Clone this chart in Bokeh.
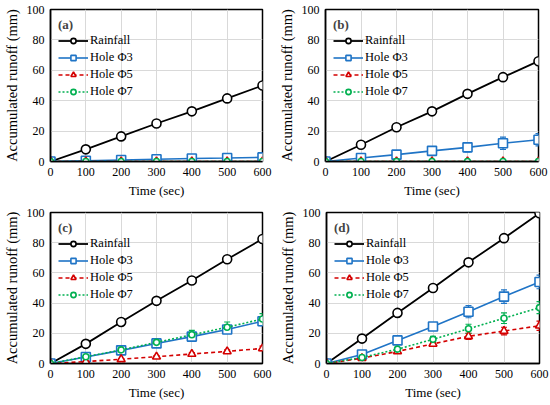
from bokeh.plotting import figure
from bokeh.layouts import column, row
from bokeh.models import ColumnDataSource, Whisker, TeeHead, Range1d, FixedTicker
from bokeh.embed import file_html
from bokeh.resources import INLINE

time = [0, 100, 200, 300, 400, 500, 600]
series_names = ["Rainfall", "Hole Φ3", "Hole Φ5", "Hole Φ7"]
panel_tags = ["(a)", "(b)", "(c)", "(d)"]

rain_a = [0, 8, 16.5, 25, 33, 41.5, 50]
h3_a = [0, 0.5, 1, 1.5, 2, 2.3, 2.7]
h3_a_err = [0, 0.3, 0.5, 0.8, 1, 2.5, 3]
h5_a = [0, 0, 0, 0, 0, 0, 0]
h5_a_err = [0, 0, 0, 0, 0, 0, 0]
h7_a = [0, 0, 0, 0, 0, 0, 0]
h7_a_err = [0, 0, 0, 0, 0, 0, 0]

rain_b = [0, 11, 22.5, 33, 44.5, 55.5, 66]
h3_b = [0, 2.3, 4.5, 7, 9.3, 12, 14.3]
h3_b_err = [0, 0.8, 1, 1.5, 3, 4, 4]
h5_b = [0, 0, 0, 0, 0, 0, 0]
h5_b_err = [0, 0, 0, 0, 0, 0, 0]
h7_b = [0, 0, 0, 0, 0, 0, 0]
h7_b_err = [0, 0, 0, 0, 0, 0, 0]

rain_c = [0, 13, 27.5, 41.5, 55, 69, 82.5]
h3_c = [0, 4.3, 8.7, 13.3, 17.8, 22.5, 28]
h3_c_err = [0, 1, 1, 1.5, 2, 2.5, 3]
h5_c = [0, 1.3, 2.8, 4.5, 6.3, 8, 10]
h5_c_err = [0, 0.5, 0.5, 0.8, 1, 1, 1.5]
h7_c = [0, 4.5, 9, 14, 19, 24, 29.5]
h7_c_err = [0, 1, 1.5, 2, 3, 3.5, 3.5]

rain_d = [0, 16.5, 33.5, 50, 67, 83, 99.5]
h3_d = [0, 6, 15.3, 24.5, 34.3, 44.3, 54]
h3_d_err = [0, 1, 1.5, 2, 4, 4.5, 4.5]
h5_d = [0, 3.5, 8, 13, 18, 21.5, 25]
h5_d_err = [0, 1, 1, 1.5, 2, 2.5, 3]
h7_d = [0, 4, 9.5, 16, 23, 30, 37]
h7_d_err = [0, 1, 1, 2, 3, 3.5, 4]

FONT = "Liberation Serif"
BLACK = "#000000"
BLUE = "#1f74c6"
RED = "#d40000"
GREEN = "#00b050"


def make_panel(tag, rain, h3, h3e, h5, h5e, h7, h7e, w, h, bl, br, bt, bb):
    p = figure(width=w, height=h, output_backend="svg", toolbar_location=None,
               x_range=Range1d(0, 600), y_range=Range1d(0, 100),
               min_border_left=bl, min_border_right=br,
               min_border_top=bt, min_border_bottom=bb)
    p.outline_line_color = "black"
    p.outline_line_width = 1.5
    p.background_fill_color = "white"
    p.border_fill_color = "white"
    for ax in (p.xaxis[0], p.yaxis[0]):
        ax.axis_line_color = "black"
        ax.axis_line_width = 1.5
        ax.major_tick_out = 0
        ax.major_tick_in = 0
        ax.minor_tick_out = 0
        ax.minor_tick_in = 0
        ax.major_label_text_font = FONT
        ax.major_label_text_font_size = "12px"
        ax.major_label_text_color = "black"
        ax.axis_label_text_font = FONT
        ax.axis_label_text_font_style = "normal"
        ax.axis_label_text_color = "black"
        ax.major_label_standoff = 6
        ax.axis_label_standoff = 4
    p.xaxis[0].ticker = FixedTicker(ticks=time)
    p.yaxis[0].ticker = FixedTicker(ticks=[0, 20, 40, 60, 80, 100])
    p.xaxis.axis_label = "Time (sec)"
    p.yaxis.axis_label = "Accumulated runoff (mm)"
    p.xaxis.axis_label_text_font_size = "13px"
    p.yaxis.axis_label_text_font_size = "14.5px"
    p.xgrid.grid_line_color = "#d9d9d9"
    p.ygrid.grid_line_color = "#d9d9d9"
    p.xgrid.ticker = FixedTicker(ticks=time)
    p.ygrid.ticker = FixedTicker(ticks=[0, 20, 40, 60, 80, 100])

    specs = [
        (series_names[0], rain, None, BLACK, "solid", "circle", 9, 1.8),
        (series_names[1], h3, h3e, BLUE, "solid", "square", 9, 1.6),
        (series_names[2], h5, h5e, RED, "4 3", "triangle", 8, 1.6),
        (series_names[3], h7, h7e, GREEN, "2 2", "circle", 6, 1.6),
    ]
    for name, ys, errs, col, dash, mk, sz, lw in specs:
        src = ColumnDataSource(dict(x=time, y=ys))
        if errs is not None and any(e > 0 for e in errs):
            wsrc = ColumnDataSource(dict(
                x=time,
                upper=[a + b for a, b in zip(ys, errs)],
                lower=[a - b for a, b in zip(ys, errs)]))
            wk = Whisker(source=wsrc, base="x", upper="upper", lower="lower",
                         line_color=col, line_width=1.2,
                         upper_head=TeeHead(size=6, line_color=col, line_width=1.2),
                         lower_head=TeeHead(size=6, line_color=col, line_width=1.2))
            p.add_layout(wk)
        p.line("x", "y", source=src, line_color=col, line_width=lw,
               line_dash=dash, legend_label=name)
        p.scatter("x", "y", source=src, marker=mk, size=sz, line_color=col,
                  line_width=1.6, fill_color="white", legend_label=name)

    lg = p.legend[0]
    lg.location = "top_left"
    lg.title = tag
    lg.title_text_font = FONT
    lg.title_text_font_style = "bold"
    lg.title_text_font_size = "13px"
    lg.title_standoff = 0
    lg.label_text_font = FONT
    lg.label_text_font_size = "12.5px"
    lg.label_text_color = "black"
    lg.glyph_width = 30
    lg.glyph_height = 13
    lg.label_height = 13
    lg.label_standoff = 2
    lg.spacing = 2
    lg.margin = 4
    lg.padding = 4
    lg.border_line_alpha = 0
    lg.background_fill_alpha = 0
    return p


pa = make_panel(panel_tags[0], rain_a, h3_a, h3_a_err, h5_a, h5_a_err, h7_a, h7_a_err,
                275, 202, 48, 13, 9, 41)
pb = make_panel(panel_tags[1], rain_b, h3_b, h3_b_err, h5_b, h5_b_err, h7_b, h7_b_err,
                275, 202, 50, 12, 9, 41)
pc = make_panel(panel_tags[2], rain_c, h3_c, h3_c_err, h5_c, h5_c_err, h7_c, h7_c_err,
                275, 203, 48, 13, 10, 42)
pd = make_panel(panel_tags[3], rain_d, h3_d, h3_d_err, h5_d, h5_d_err, h7_d, h7_d_err,
                275, 203, 51, 11, 10, 42)

layout = column(row(pa, pb), row(pc, pd))
open("out.html", "w").write(file_html(layout, INLINE))
